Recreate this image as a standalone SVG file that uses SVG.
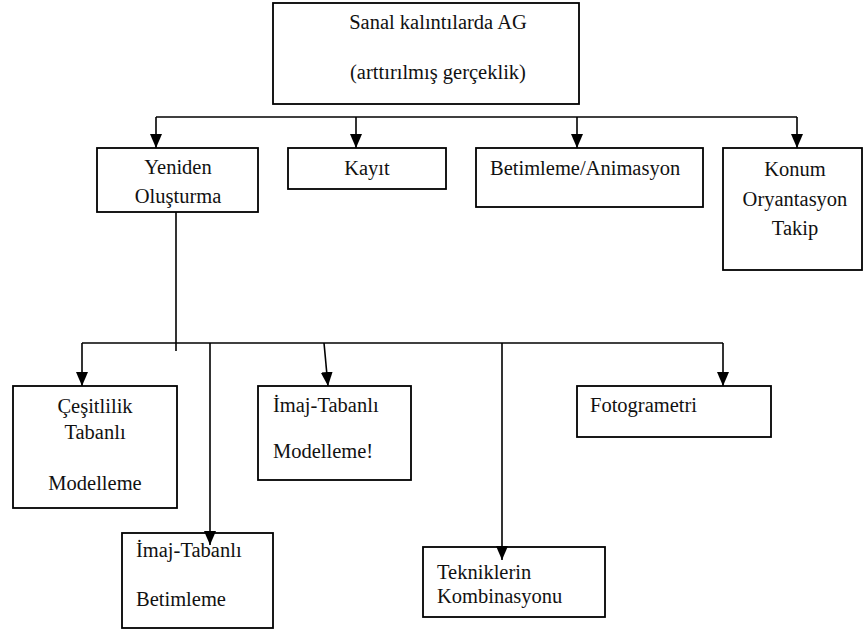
<svg xmlns="http://www.w3.org/2000/svg" width="864" height="630" viewBox="0 0 864 630">
  <style>
    .box { fill: #ffffff; stroke: #000000; stroke-width: 1.8; }
    .lbl { font-size: 20.5px; fill: #111111; }
    .mid { text-anchor: middle; }
    .wire { fill: none; stroke: #000000; stroke-width: 1.6; }
  </style>
  <defs>
    <marker id="arrow" viewBox="0 0 14 12" refX="14" refY="6" markerWidth="14" markerHeight="12" markerUnits="userSpaceOnUse" orient="auto">
      <path d="M0,0 L14,6 L0,12 Z" fill="#000000"/>
    </marker>
  </defs>

  <rect width="864" height="630" fill="#ffffff"/>

  <g id="nodes" font-family="'Liberation Serif', 'Times New Roman', Times, serif">
    <g id="root">
      <rect class="box" x="273" y="3" width="306" height="101"/>
      <text class="lbl mid" x="438" y="29">Sanal kalıntılarda AG</text>
      <text class="lbl mid" x="438" y="79">(arttırılmış gerçeklik)</text>
    </g>

    <g id="yeniden">
      <rect class="box" x="97" y="148" width="161" height="64"/>
      <text class="lbl mid" x="178" y="174">Yeniden</text>
      <text class="lbl mid" x="178" y="203">Oluşturma</text>
    </g>

    <g id="kayit">
      <rect class="box" x="288" y="148" width="158" height="41"/>
      <text class="lbl mid" x="367" y="175">Kayıt</text>
    </g>

    <g id="betimleme">
      <rect class="box" x="476" y="148" width="227" height="59"/>
      <text class="lbl" x="490" y="175">Betimleme/Animasyon</text>
    </g>

    <g id="konum">
      <rect class="box" x="723" y="148" width="139" height="122"/>
      <text class="lbl mid" x="795" y="176">Konum</text>
      <text class="lbl mid" x="795" y="206">Oryantasyon</text>
      <text class="lbl mid" x="795" y="235">Takip</text>
    </g>

    <g id="cesitlilik">
      <rect class="box" x="13" y="386" width="164" height="122"/>
      <text class="lbl mid" x="95" y="413">Çeşitlilik</text>
      <text class="lbl mid" x="95" y="439">Tabanlı</text>
      <text class="lbl mid" x="95" y="490">Modelleme</text>
    </g>

    <g id="imaj-betimleme">
      <rect class="box" x="122" y="533" width="151" height="95"/>
      <text class="lbl" x="136" y="557">İmaj-Tabanlı</text>
      <text class="lbl" x="136" y="606">Betimleme</text>
    </g>

    <g id="imaj-modelleme">
      <rect class="box" x="258" y="386" width="153" height="94"/>
      <text class="lbl" x="273" y="412">İmaj-Tabanlı</text>
      <text class="lbl" x="273" y="458">Modelleme!</text>
    </g>

    <g id="teknikler">
      <rect class="box" x="423" y="547" width="182" height="70"/>
      <text class="lbl" x="437" y="579">Tekniklerin</text>
      <text class="lbl" x="437" y="603">Kombinasyonu</text>
    </g>

    <g id="fotogrametri">
      <rect class="box" x="577" y="386" width="194" height="51"/>
      <text class="lbl" x="590" y="412">Fotogrametri</text>
    </g>
  </g>

  <!-- connectors, drawn last so arrowheads that reach into a box stay visible -->
  <g id="connectors">
    <!-- first level -->
    <path class="wire" d="M156,117 H797"/>
    <path class="wire" d="M156,117 V148" marker-end="url(#arrow)"/>
    <path class="wire" d="M356,117 V148" marker-end="url(#arrow)"/>
    <path class="wire" d="M577,117 V148" marker-end="url(#arrow)"/>
    <path class="wire" d="M797,117 V148" marker-end="url(#arrow)"/>
    <!-- second level -->
    <path class="wire" d="M176,212 V351"/>
    <path class="wire" d="M82,343 H723"/>
    <path class="wire" d="M82,343 V386" marker-end="url(#arrow)"/>
    <path class="wire" d="M210,343 V545" marker-end="url(#arrow)"/>
    <path class="wire" d="M324,343 L328,386" marker-end="url(#arrow)"/>
    <path class="wire" d="M502,343 V560" marker-end="url(#arrow)"/>
    <path class="wire" d="M723,343 V386" marker-end="url(#arrow)"/>
  </g>
</svg>
